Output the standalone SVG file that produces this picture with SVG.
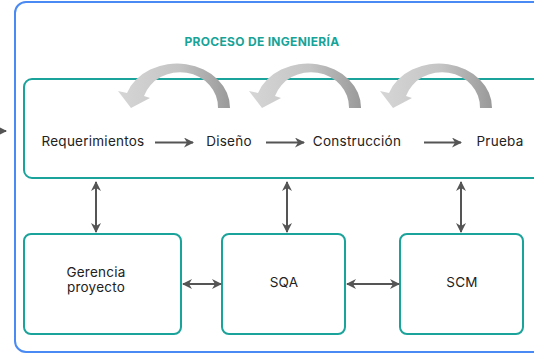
<svg xmlns="http://www.w3.org/2000/svg" width="534" height="354" viewBox="0 0 534 354">
<style>
.outer{fill:#fff;stroke:#4a8af4;stroke-width:2}
.box{fill:#fff;stroke:#1aa39b;stroke-width:2}
.lbl{font-family:Inter,"Liberation Sans",sans-serif;font-size:13.5px;letter-spacing:0.25px;fill:#222;text-anchor:middle}
.title{font-family:Inter,"Liberation Sans",sans-serif;font-size:12px;letter-spacing:0.3px;font-weight:700;fill:#17a398;text-anchor:middle}
.con{stroke:#555;stroke-width:2;fill:none}
</style>
<defs>
<marker id="ah" viewBox="0 0 10 10" refX="9" refY="5" markerWidth="5" markerHeight="5" orient="auto-start-reverse">
<path d="M0,0 L10,5 L0,10 L3,5 Z" fill="#555"/>
</marker>
<linearGradient id="cg" x1="0" y1="0" x2="1" y2="0">
<stop offset="0" stop-color="#d6d6d6"/>
<stop offset="0.55" stop-color="#c4c4c4"/>
<stop offset="1" stop-color="#999"/>
</linearGradient>
<path id="curl" d="M230,108 A53,44 0 0 0 127,93 L118,91 L131,108 L150,98 L144,96 A38,35 0 0 1 218,108 Z" fill="url(#cg)"/>
</defs>
<rect class="outer" x="15" y="2" width="540" height="350" rx="11"/>
<text class="title" x="262" y="46">PROCESO DE INGENIERÍA</text>
<g id="proceso">
<rect class="box" x="24" y="79" width="530" height="99" rx="8"/>
<use href="#curl"/>
<use href="#curl" transform="translate(131,0)"/>
<use href="#curl" transform="translate(262,0)"/>
<text class="lbl" x="93" y="146">Requerimientos</text>
<text class="lbl" x="229" y="146">Diseño</text>
<text class="lbl" x="357" y="146">Construcción</text>
<text class="lbl" x="500" y="146">Prueba</text>
</g>
<g id="gerencia">
<rect class="box" x="24" y="234" width="157" height="100" rx="7"/>
<text class="lbl" x="96" y="277">Gerencia</text>
<text class="lbl" x="96" y="292">proyecto</text>
</g>
<g id="sqa">
<rect class="box" x="222" y="234" width="123" height="100" rx="7"/>
<text class="lbl" x="284" y="287">SQA</text>
</g>
<g id="scm">
<rect class="box" x="400" y="234" width="123" height="100" rx="7"/>
<text class="lbl" x="462" y="287">SCM</text>
</g>
<g id="connectors">
<line class="con" x1="-4" y1="131" x2="6" y2="131" stroke-width="1.2" marker-end="url(#ah)"/>
<line class="con" x1="155" y1="142.5" x2="193" y2="142.5" marker-end="url(#ah)"/>
<line class="con" x1="266" y1="142.5" x2="304" y2="142.5" marker-end="url(#ah)"/>
<line class="con" x1="424" y1="142.5" x2="461" y2="142.5" marker-end="url(#ah)"/>
<line class="con" x1="96" y1="182" x2="96" y2="232" marker-start="url(#ah)" marker-end="url(#ah)"/>
<line class="con" x1="287" y1="182" x2="287" y2="232" marker-start="url(#ah)" marker-end="url(#ah)"/>
<line class="con" x1="461" y1="182" x2="461" y2="232" marker-start="url(#ah)" marker-end="url(#ah)"/>
<line class="con" x1="183" y1="284" x2="221" y2="284" marker-start="url(#ah)" marker-end="url(#ah)"/>
<line class="con" x1="347" y1="284" x2="399" y2="284" marker-start="url(#ah)" marker-end="url(#ah)"/>
</g>
</svg>
